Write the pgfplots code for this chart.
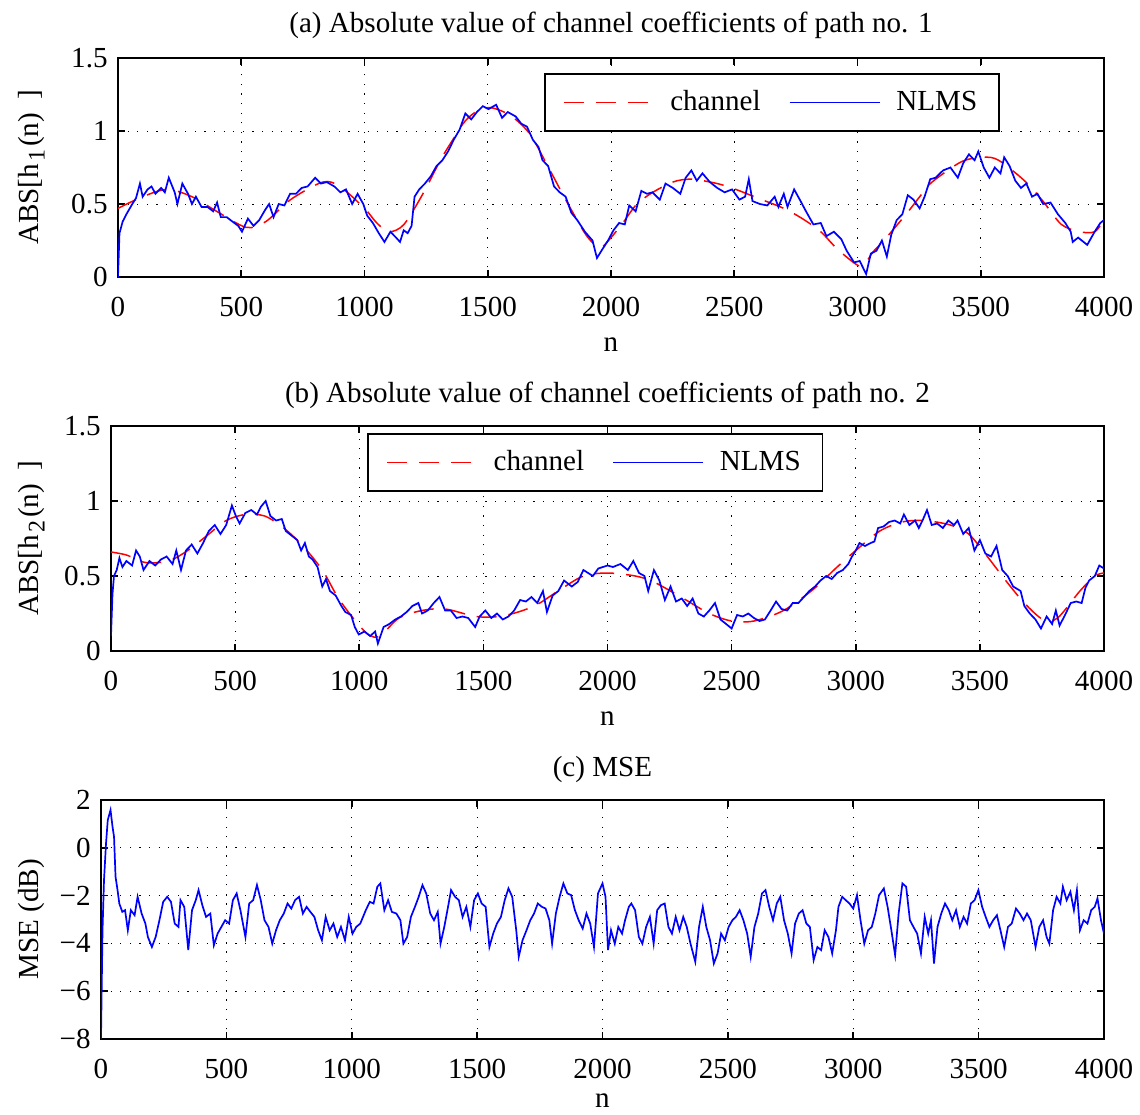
\documentclass[border=0pt]{standalone}
\usepackage{fontspec}
\setmainfont{Liberation Serif}
\usepackage{pgfplots}
\pgfplotsset{compat=1.18}

\newcommand{\figfont}{\fontsize{14.6}{17}\selectfont}
\newcommand{\hsub}[1]{\kern1pt\raisebox{-0.5ex}{\fontsize{12}{12}\selectfont #1}\kern1.5pt}

\pgfplotsset{
  every axis title shift=0pt,
  mfig/.style={
    scale only axis,
    anchor=south west,
    xmin=0, xmax=4000,
    xtick={0,500,...,4000},
    scaled ticks=false,
    /pgf/number format/assume math mode=true,
    /pgf/number format/set thousands separator={},
    tick align=inside,
    tick pos=both,
    xticklabel pos=lower,
    yticklabel pos=left,
    major tick length=3.5bp,
    grid=major,
    major grid style={dash pattern=on 0.6bp off 4.2bp, line width=0.5bp, black},
    axis line style={line width=0.8bp},
    every tick/.style={black, line width=0.8bp},
    tick label style={font=\figfont},
    xticklabel style={anchor=base, yshift=-19.5bp},
    yticklabel style={anchor=east, inner xsep=0pt, xshift=-5bp},
    label style={font=\figfont},
    title style={font=\figfont, anchor=base, at={(axis description cs:0.5,1)}},
    xlabel={n},
    xlabel style={anchor=base, at={(axis description cs:0.5,0)}, yshift=-37bp},
    legend columns=2,
    legend image code/.code={\draw[#1] (0bp,0bp) -- (45bp,0bp);},
    legend style={font=\figfont, draw, line width=0.8bp, anchor=north east,
      inner xsep=9bp, inner ysep=6.5bp,
      /tikz/every odd column/.append style={column sep=6bp},
      /tikz/every even column/.append style={column sep=12bp}},
  },
  chan/.style={color=red, draw=red, line width=0.75bp, dash pattern=on 10bp off 6bp},
  nlms/.style={color=blue, draw=blue, line width=0.85bp},
}

\begin{document}
\begin{tikzpicture}
\useasboundingbox (0,0) rectangle (570bp,-557.5bp);

% (a) path 1
\begin{axis}[mfig,
  at={(59bp,-138.5bp)}, width=493bp, height=109.5bp,
  ymin=0, ymax=1.5, ytick={0,0.5,1,1.5},
  title={(a) Absolute value of channel coefficients of path no. 1},
  title style={yshift=12.8bp},
  ylabel={ABS[h\hsub{1}(n)\hspace{0.45em}]},
  ylabel style={at={(axis description cs:-0.0811,0.5)}, anchor=base, rotate=0},
  legend style={at={(0.8945,0.9315)}},
]
\addplot[chan, smooth] coordinates {
(0,0.47) (100,0.55) (200,0.60) (300,0.55) (400,0.45) (520,0.34) (600,0.38)
(700,0.53) (830,0.65) (900,0.62) (1000,0.47) (1050,0.37) (1100,0.31) (1160,0.36)
(1237,0.57) (1308,0.80) (1362,0.95) (1409,1.07) (1460,1.14) (1510,1.16)
(1566,1.13) (1620,1.07) (1675,0.97) (1737,0.78) (1816,0.53) (1894,0.30)
(1935,0.22) (1960,0.20) (2000,0.27) (2048,0.37) (2100,0.49) (2160,0.57) (2250,0.65)
(2326,0.67) (2431,0.64) (2506,0.60) (2596,0.54) (2701,0.47) (2776,0.40)
(2851,0.31) (2919,0.19) (3001,0.08) (3030,0.09) (3062,0.17) (3107,0.25)
(3197,0.43) (3257,0.56) (3302,0.65) (3422,0.79) (3512,0.82) (3572,0.80)
(3677,0.66) (3752,0.52) (3827,0.36) (3902,0.31) (3962,0.31) (4000,0.39)
};
\addlegendentry{channel}
\addplot[nlms] coordinates {
(0,0) (6,0.30) (19,0.38) (34,0.43) (58,0.50) (73,0.54) (89,0.64) (100,0.55)
(120,0.60) (136,0.62) (152,0.57) (175,0.61) (190,0.58) (206,0.68) (230,0.58)
(241,0.50) (261,0.64) (284,0.57) (300,0.50) (316,0.55) (339,0.48) (363,0.48)
(386,0.45) (402,0.51) (417,0.41) (441,0.41) (464,0.38) (488,0.35) (503,0.31)
(527,0.40) (550,0.35) (573,0.39) (597,0.46) (613,0.50) (631,0.41) (652,0.50)
(675,0.49) (698,0.57) (722,0.57) (745,0.61) (769,0.62) (800,0.68) (823,0.64)
(847,0.65) (878,0.62) (902,0.58) (925,0.60) (950,0.50) (972,0.57) (995,0.50)
(1011,0.42) (1034,0.37) (1058,0.30) (1081,0.24) (1105,0.31) (1128,0.27)
(1144,0.24) (1159,0.32) (1175,0.30) (1191,0.35) (1203,0.55) (1222,0.60)
(1245,0.64) (1269,0.69) (1292,0.76) (1316,0.80) (1339,0.86) (1362,0.94)
(1386,1.01) (1409,1.12) (1433,1.08) (1456,1.13) (1480,1.17) (1503,1.15)
(1534,1.18) (1558,1.09) (1581,1.13) (1613,1.10) (1636,1.05) (1659,1.03)
(1683,0.94) (1706,0.89) (1722,0.80) (1745,0.76) (1769,0.62) (1792,0.58)
(1816,0.55) (1839,0.44) (1863,0.39) (1894,0.31) (1925,0.25) (1943,0.13)
(1965,0.19) (1988,0.25) (2010,0.32) (2033,0.37) (2056,0.36) (2074,0.49)
(2100,0.45) (2123,0.59) (2146,0.57) (2168,0.58) (2198,0.53) (2221,0.64)
(2251,0.61) (2281,0.57) (2303,0.68) (2326,0.73) (2348,0.66) (2371,0.71)
(2401,0.65) (2431,0.61) (2461,0.58) (2491,0.60) (2521,0.53) (2544,0.55)
(2559,0.67) (2574,0.52) (2604,0.50) (2634,0.49) (2664,0.55) (2679,0.48)
(2701,0.57) (2716,0.48) (2743,0.60) (2769,0.52) (2791,0.45) (2821,0.36)
(2851,0.37) (2874,0.28) (2904,0.31) (2934,0.26) (2956,0.18) (2986,0.10)
(3009,0.11) (3035,0.02) (3054,0.16) (3077,0.18) (3099,0.25) (3119,0.14)
(3137,0.29) (3159,0.39) (3182,0.43) (3204,0.56) (3227,0.53) (3252,0.47)
(3272,0.55) (3295,0.67) (3317,0.68) (3347,0.73) (3377,0.75) (3407,0.68)
(3429,0.78) (3452,0.84) (3475,0.80) (3490,0.86) (3512,0.75) (3535,0.68)
(3557,0.75) (3580,0.71) (3595,0.82) (3617,0.76) (3640,0.66) (3663,0.61)
(3685,0.64) (3708,0.55) (3730,0.57) (3753,0.50) (3783,0.51) (3813,0.43)
(3843,0.37) (3865,0.31) (3873,0.24) (3895,0.27) (3932,0.22) (3962,0.31)
(3985,0.37) (4000,0.39)
};
\addlegendentry{NLMS}
\end{axis}

% (b) path 2
\begin{axis}[mfig,
  at={(55.5bp,-325.5bp)}, width=496.5bp, height=112.5bp,
  ymin=0, ymax=1.5, ytick={0,0.5,1,1.5},
  title={(b) Absolute value of channel coefficients of path no. 2},
  title style={yshift=11.7bp},
  ylabel={ABS[h\hsub{2}(n)\hspace{0.45em}]},
  ylabel style={at={(axis description cs:-0.0735,0.5)}, anchor=base, rotate=0},
  legend style={at={(0.7175,0.969)}},
]
\addplot[chan, smooth] coordinates {
(0,0.66) (62,0.64) (139,0.59) (232,0.60) (309,0.67) (387,0.77) (464,0.87)
(541,0.91) (619,0.90) (696,0.82) (773,0.70) (851,0.54) (913,0.36) (975,0.22)
(1036,0.11) (1083,0.10) (1160,0.22) (1253,0.27) (1346,0.28) (1470,0.23)
(1562,0.23) (1640,0.26) (1717,0.31) (1810,0.41) (1903,0.50) (2000,0.52)
(2112,0.50) (2187,0.46) (2306,0.35) (2410,0.25) (2500,0.20) (2590,0.20)
(2709,0.27) (2828,0.41) (2925,0.56) (3000,0.67) (3097,0.80) (3187,0.86)
(3276,0.87) (3381,0.84) (3455,0.78) (3530,0.63) (3604,0.47) (3679,0.32)
(3754,0.21) (3813,0.22) (3903,0.40) (3963,0.50) (4000,0.52)
};
\addlegendentry{channel}
\addplot[nlms] coordinates {
(0,0.10) (6,0.38) (12,0.50) (23,0.54) (34,0.62) (46,0.56) (62,0.60) (85,0.57)
(101,0.67) (116,0.63) (131,0.54) (155,0.60) (178,0.57) (201,0.61) (224,0.63)
(248,0.58) (263,0.67) (282,0.54) (302,0.67) (325,0.71) (348,0.65) (371,0.72)
(394,0.80) (418,0.84) (441,0.78) (464,0.84) (487,0.97) (503,0.90) (518,0.85)
(541,0.92) (565,0.94) (588,0.91) (603,0.96) (623,1.00) (642,0.90) (665,0.87)
(688,0.88) (704,0.80) (727,0.77) (750,0.74) (766,0.67) (781,0.72) (797,0.63)
(812,0.61) (832,0.56) (851,0.43) (866,0.48) (882,0.40) (905,0.37) (928,0.30)
(944,0.26) (967,0.24) (982,0.16) (998,0.11) (1021,0.13) (1044,0.10) (1064,0.13)
(1075,0.05) (1098,0.16) (1121,0.18) (1145,0.21) (1168,0.23) (1191,0.26)
(1214,0.30) (1238,0.32) (1253,0.25) (1276,0.27) (1300,0.32) (1323,0.36)
(1346,0.27) (1369,0.27) (1392,0.22) (1416,0.23) (1439,0.22) (1467,0.16)
(1485,0.23) (1508,0.27) (1532,0.22) (1555,0.25) (1578,0.21) (1601,0.23)
(1624,0.27) (1648,0.34) (1671,0.33) (1694,0.36) (1717,0.32) (1740,0.40)
(1756,0.26) (1779,0.37) (1802,0.40) (1825,0.47) (1856,0.43) (1880,0.46)
(1903,0.54) (1941,0.50) (1963,0.55) (2000,0.57) (2022,0.56) (2052,0.58)
(2082,0.54) (2104,0.60) (2127,0.52) (2149,0.50) (2164,0.40) (2187,0.54)
(2209,0.47) (2231,0.34) (2254,0.43) (2276,0.33) (2299,0.35) (2321,0.30)
(2343,0.35) (2366,0.25) (2388,0.23) (2410,0.27) (2433,0.32) (2455,0.21)
(2478,0.18) (2500,0.15) (2522,0.24) (2545,0.23) (2567,0.25) (2590,0.22)
(2612,0.20) (2634,0.21) (2657,0.27) (2679,0.33) (2701,0.28) (2724,0.27)
(2746,0.32) (2769,0.32) (2791,0.36) (2813,0.40) (2836,0.43) (2858,0.47)
(2881,0.50) (2903,0.48) (2925,0.52) (2948,0.54) (2970,0.58) (2985,0.63)
(3000,0.67) (3015,0.72) (3037,0.70) (3060,0.72) (3075,0.73) (3090,0.82)
(3112,0.83) (3134,0.86) (3157,0.87) (3179,0.85) (3194,0.91) (3216,0.84)
(3239,0.87) (3254,0.82) (3269,0.87) (3287,0.94) (3306,0.84) (3328,0.85)
(3351,0.82) (3373,0.87) (3396,0.84) (3410,0.87) (3433,0.78) (3455,0.82)
(3478,0.67) (3500,0.74) (3522,0.65) (3545,0.63) (3567,0.70) (3590,0.54)
(3612,0.50) (3634,0.43) (3664,0.40) (3679,0.30) (3701,0.25) (3724,0.21)
(3746,0.15) (3769,0.23) (3791,0.18) (3806,0.27) (3821,0.17) (3843,0.24)
(3866,0.32) (3888,0.33) (3910,0.32) (3925,0.42) (3940,0.47) (3963,0.50)
(3981,0.57) (4000,0.55)
};
\addlegendentry{NLMS}
\end{axis}

% (c) MSE
\begin{axis}[mfig,
  at={(50.5bp,-519.5bp)}, width=501.5bp, height=119.5bp,
  ymin=-8, ymax=2, ytick={-8,-6,-4,-2,0,2},
  yticklabels={−8,−6,−4,−2,0,2},
  title={(c) MSE},
  title style={yshift=12bp},
  xlabel style={yshift=3bp},
  ylabel={MSE (dB)},
  ylabel style={at={(axis description cs:-0.0622,0.5)}, anchor=base, rotate=0},
]
\addplot[nlms] coordinates {
(0,-8) (6,-3.45) (12,-1.35) (20,0.18) (27,1.16) (38,1.58) (46,0.88) (52,0.46)
(58,-1.21) (66,-1.77) (73,-2.33) (85,-2.68) (96,-2.61) (107,-3.45) (119,-2.61)
(134,-2.82) (146,-2.05) (162,-2.75) (177,-3.17) (187,-3.73) (203,-4.15)
(218,-3.73) (233,-3.03) (248,-2.26) (264,-2.05) (279,-2.26) (294,-3.17)
(309,-3.31) (317,-2.19) (332,-2.47) (348,-4.28) (363,-2.61) (378,-2.19)
(389,-1.77) (404,-2.40) (419,-2.89) (436,-2.75) (450,-4.08) (465,-3.59)
(480,-3.31) (495,-3.03) (511,-3.17) (526,-2.19) (541,-1.91) (556,-2.61)
(576,-3.73) (591,-2.33) (607,-2.19) (622,-1.56) (637,-2.19) (652,-3.03)
(668,-3.31) (683,-4.01) (698,-3.45) (713,-3.03) (729,-2.75) (744,-2.33)
(759,-2.54) (774,-2.19) (790,-2.05) (805,-2.75) (820,-2.47) (835,-2.68)
(851,-2.89) (866,-3.45) (881,-3.87) (896,-2.89) (912,-3.45) (927,-3.17)
(942,-3.73) (957,-3.31) (973,-3.87) (988,-2.89) (1003,-3.59) (1018,-3.31)
(1034,-3.17) (1056,-2.61) (1072,-2.26) (1087,-2.33) (1102,-1.63) (1114,-1.49)
(1130,-2.61) (1145,-2.19) (1160,-2.68) (1178,-2.75) (1194,-3.03) (1206,-4.01)
(1221,-3.73) (1236,-2.89) (1252,-2.47) (1267,-2.05) (1282,-1.56) (1297,-1.91)
(1313,-2.75) (1328,-3.03) (1343,-2.68) (1354,-4.01) (1369,-3.31) (1384,-2.47)
(1396,-1.77) (1412,-2.05) (1427,-2.19) (1442,-2.89) (1457,-2.47) (1473,-3.31)
(1488,-2.19) (1503,-1.91) (1518,-2.33) (1534,-2.47) (1549,-4.15) (1564,-3.59)
(1579,-3.17) (1595,-2.89) (1610,-2.19) (1625,-1.70) (1640,-2.05) (1656,-3.45)
(1666,-4.56) (1681,-3.87) (1697,-3.45) (1712,-3.03) (1727,-2.75) (1742,-2.33)
(1758,-2.47) (1773,-2.54) (1788,-3.03) (1799,-4.01) (1814,-2.75) (1829,-2.05)
(1844,-1.49) (1860,-1.91) (1875,-1.98) (1890,-2.61) (1905,-3.03) (1921,-3.38)
(1936,-2.75) (1951,-3.17) (1966,-4.15) (1982,-1.91) (2000,-1.49) (2012,-2.05)
(2022,-4.28) (2034,-3.45) (2049,-4.01) (2063,-3.31) (2078,-3.59) (2090,-3.03)
(2105,-2.47) (2115,-2.33) (2130,-2.61) (2145,-3.73) (2159,-4.01) (2174,-3.31)
(2189,-2.89) (2204,-4.01) (2218,-2.61) (2233,-2.40) (2248,-2.33) (2263,-3.31)
(2277,-3.59) (2292,-2.89) (2307,-3.45) (2322,-2.89) (2336,-3.31) (2351,-4.01)
(2370,-4.77) (2385,-3.31) (2400,-2.47) (2414,-3.31) (2429,-3.87) (2444,-4.84)
(2459,-4.42) (2473,-3.59) (2488,-3.87) (2503,-3.31) (2518,-3.03) (2532,-2.89)
(2547,-2.61) (2562,-3.03) (2577,-3.59) (2591,-4.56) (2606,-3.31) (2621,-2.75)
(2636,-1.91) (2650,-1.77) (2665,-2.47) (2680,-3.03) (2695,-2.33) (2709,-2.05)
(2724,-3.03) (2739,-3.59) (2754,-4.42) (2768,-3.17) (2783,-2.75) (2798,-2.61)
(2813,-3.17) (2827,-3.31) (2842,-4.70) (2857,-4.15) (2872,-4.28) (2886,-3.45)
(2901,-3.73) (2916,-4.42) (2931,-3.45) (2941,-2.47) (2956,-2.05) (2970,-2.19)
(2985,-2.33) (3000,-2.54) (3015,-1.98) (3029,-3.03) (3044,-4.01) (3059,-3.45)
(3074,-3.31) (3088,-2.75) (3103,-1.98) (3122,-1.70) (3137,-2.47) (3152,-3.45)
(3167,-4.49) (3181,-2.75) (3196,-1.49) (3211,-1.63) (3226,-3.03) (3240,-3.31)
(3255,-3.59) (3270,-4.42) (3285,-2.89) (3299,-3.59) (3310,-3.03) (3322,-4.84)
(3336,-3.31) (3351,-2.75) (3366,-2.33) (3381,-2.61) (3395,-3.03) (3410,-2.61)
(3425,-3.31) (3440,-2.89) (3454,-3.17) (3469,-2.33) (3484,-2.19) (3499,-1.77)
(3514,-2.47) (3528,-2.89) (3543,-3.31) (3558,-3.03) (3573,-2.82) (3587,-3.45)
(3602,-4.15) (3617,-3.31) (3632,-3.17) (3649,-2.54) (3664,-2.75) (3679,-3.03)
(3693,-2.75) (3708,-3.03) (3727,-4.15) (3742,-3.31) (3757,-3.03) (3771,-3.73)
(3782,-4.01) (3797,-2.61) (3811,-2.05) (3826,-2.33) (3836,-1.63) (3851,-2.19)
(3866,-1.84) (3880,-2.61) (3892,-1.77) (3904,-3.45) (3919,-3.03) (3934,-3.17)
(3949,-2.61) (3963,-2.47) (3974,-2.12) (3988,-3.03) (4000,-3.59)
};
\end{axis}
\end{tikzpicture}
\end{document}
